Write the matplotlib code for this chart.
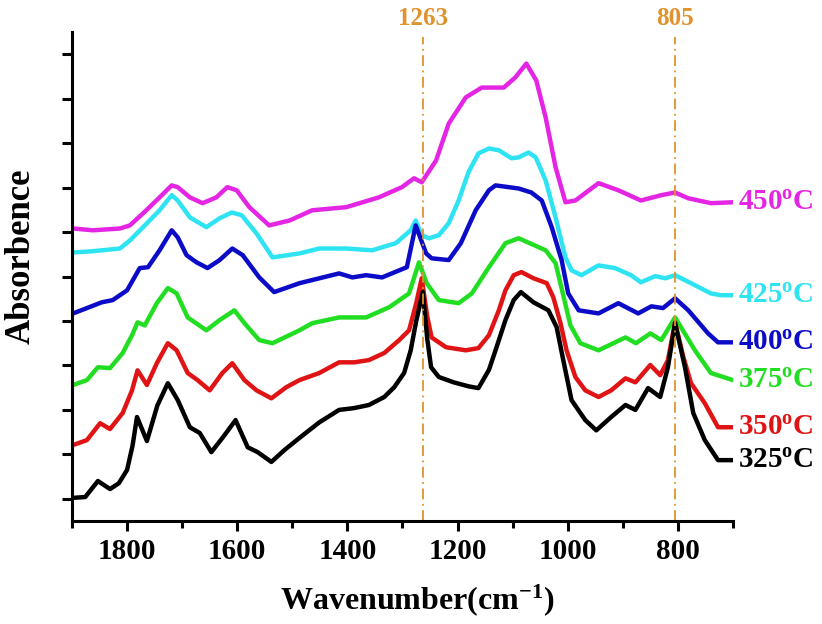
import numpy as np
import matplotlib.pyplot as plt
from matplotlib.ticker import MultipleLocator, NullFormatter

plt.rcParams['font.family'] = ['Liberation Serif', 'DejaVu Serif']
plt.rcParams['font.weight'] = 'bold'
plt.rcParams['mathtext.fontset'] = 'custom'
plt.rcParams['mathtext.rm'] = 'Liberation Serif:bold'
plt.rcParams['mathtext.it'] = 'Liberation Serif:bold'
plt.rcParams['mathtext.bf'] = 'Liberation Serif:bold'
plt.rcParams['mathtext.default'] = 'rm'

# 各温度下的红外光谱 (波数, 吸光度, 已做纵向平移)
wn_325 = [1900, 1876, 1853, 1831, 1815, 1800, 1790, 1782, 1764, 1745, 1726, 1708, 1686, 1668, 1647,
          1625, 1603, 1581, 1563, 1538, 1514, 1487, 1451, 1415, 1388, 1361, 1333, 1315, 1297, 1285,
          1275, 1263, 1255, 1248, 1234, 1207, 1180, 1162, 1143, 1131, 1113, 1098, 1085, 1062, 1035,
          1020, 1008, 993, 968, 948, 921, 895, 877, 854, 832, 818, 805, 787, 772, 751, 727, 700]
ab_325 = [1.02, 1.04, 1.40, 1.22, 1.35, 1.65, 2.20, 2.84, 2.30, 3.10, 3.60, 3.22, 2.61, 2.48, 2.05,
          2.40, 2.77, 2.16, 2.05, 1.83, 2.10, 2.37, 2.72, 3.00, 3.04, 3.11, 3.29, 3.51, 3.83, 4.34,
          5.00, 5.65, 4.60, 3.96, 3.74, 3.62, 3.53, 3.49, 3.90, 4.34, 5.02, 5.47, 5.65, 5.42, 5.24,
          4.86, 4.12, 3.22, 2.77, 2.54, 2.84, 3.11, 3.00, 3.49, 3.29, 3.96, 4.95, 3.96, 2.93, 2.32, 1.87, 1.87]

wn_350 = [1898, 1873, 1849, 1831, 1808, 1791, 1781, 1764, 1746, 1726, 1710, 1690, 1672, 1650, 1627,
          1609, 1587, 1565, 1538, 1511, 1487, 1451, 1415, 1388, 1361, 1333, 1306, 1288, 1275, 1265,
          1255, 1247, 1221, 1185, 1162, 1143, 1125, 1113, 1098, 1084, 1062, 1038, 1026, 1013, 1002,
          986, 968, 944, 921, 895, 877, 850, 832, 818, 805, 790, 776, 751, 727, 700]
ab_350 = [2.21, 2.32, 2.70, 2.57, 2.93, 3.44, 3.89, 3.56, 4.05, 4.50, 4.34, 3.83, 3.67, 3.44, 3.83,
          4.05, 3.67, 3.44, 3.26, 3.51, 3.67, 3.83, 4.07, 4.07, 4.12, 4.28, 4.57, 4.79, 5.40, 5.96,
          5.10, 4.63, 4.41, 4.34, 4.39, 4.68, 5.24, 5.69, 6.03, 6.10, 5.96, 5.85, 5.53, 4.95, 4.34,
          3.74, 3.44, 3.29, 3.44, 3.71, 3.62, 4.01, 3.78, 4.12, 4.97, 4.19, 3.60, 3.15, 2.61, 2.61]

wn_375 = [1898, 1873, 1853, 1831, 1808, 1791, 1781, 1768, 1746, 1726, 1710, 1690, 1656, 1632, 1605,
          1587, 1560, 1536, 1487, 1464, 1415, 1366, 1324, 1288, 1270, 1256, 1234, 1198, 1174, 1143,
          1113, 1089, 1040, 1022, 1008, 995, 977, 944, 895, 876, 850, 830, 805, 769, 740, 700]
ab_375 = [3.56, 3.67, 3.96, 3.94, 4.28, 4.68, 4.97, 4.90, 5.40, 5.74, 5.62, 5.08, 4.79, 5.02, 5.24,
          4.95, 4.57, 4.50, 4.79, 4.95, 5.08, 5.08, 5.31, 5.62, 6.32, 5.85, 5.47, 5.40, 5.62, 6.21,
          6.75, 6.86, 6.59, 6.30, 5.58, 4.90, 4.50, 4.34, 4.63, 4.50, 4.72, 4.57, 5.08, 4.34, 3.83, 3.67]

wn_400 = [1898, 1873, 1846, 1826, 1800, 1777, 1762, 1741, 1719, 1708, 1692, 1674, 1654, 1632, 1609,
          1590, 1560, 1533, 1487, 1415, 1391, 1366, 1337, 1292, 1276, 1257, 1247, 1216, 1194, 1167,
          1143, 1131, 1089, 1066, 1047, 1029, 1011, 999, 980, 944, 908, 872, 848, 827, 805, 781,
          745, 727, 700]
ab_400 = [5.17, 5.29, 5.42, 5.47, 5.69, 6.19, 6.21, 6.59, 7.04, 6.88, 6.48, 6.32, 6.19, 6.37, 6.63,
          6.48, 5.98, 5.65, 5.85, 6.07, 5.98, 6.03, 5.98, 6.21, 7.15, 6.52, 6.41, 6.37, 6.75, 7.49,
          7.94, 8.05, 7.98, 7.89, 7.71, 7.11, 6.37, 5.62, 5.24, 5.17, 5.40, 5.17, 5.33, 5.29, 5.51, 5.24,
          4.72, 4.52, 4.52]

wn_425 = [1898, 1862, 1813, 1795, 1771, 1741, 1719, 1708, 1686, 1656, 1632, 1610, 1592, 1565, 1536,
          1487, 1451, 1402, 1355, 1312, 1285, 1276, 1265, 1252, 1234, 1216, 1198, 1180, 1162, 1143,
          1125, 1102, 1089, 1071, 1058, 1040, 1022, 1004, 993, 975, 944, 914, 885, 867, 841, 823,
          805, 776, 740, 722, 700]
ab_425 = [6.54, 6.57, 6.63, 6.81, 7.11, 7.49, 7.83, 7.71, 7.33, 7.11, 7.31, 7.44, 7.38, 6.97, 6.43,
          6.52, 6.63, 6.63, 6.59, 6.75, 7.04, 7.26, 6.93, 6.86, 6.93, 7.20, 7.71, 8.35, 8.77, 8.88,
          8.84, 8.66, 8.68, 8.79, 8.68, 8.16, 7.33, 6.43, 6.14, 6.03, 6.25, 6.19, 6.03, 5.87, 6.01, 5.96,
          6.03, 5.85, 5.62, 5.58, 5.58]

wn_450 = [1898, 1862, 1813, 1795, 1771, 1741, 1719, 1708, 1686, 1663, 1638, 1618, 1601, 1578, 1542,
          1505, 1464, 1402, 1343, 1301, 1279, 1265, 1239, 1216, 1185, 1156, 1116, 1095, 1075, 1057,
          1040, 1022, 1004, 986, 944, 908, 867, 830, 805, 781, 740, 700]
ab_450 = [7.08, 7.04, 7.08, 7.15, 7.42, 7.78, 8.05, 8.01, 7.78, 7.65, 7.78, 8.01, 7.94, 7.56, 7.15,
          7.26, 7.49, 7.56, 7.78, 8.01, 8.21, 8.12, 8.61, 9.44, 10.03, 10.25, 10.25, 10.48, 10.79, 10.41,
          9.58, 8.46, 7.67, 7.71, 8.10, 7.94, 7.71, 7.83, 7.89, 7.76, 7.65, 7.67]

series = [
    (wn_450, ab_450, '450', '#E426E4'),
    (wn_425, ab_425, '425', '#2EE4F2'),
    (wn_400, ab_400, '400', '#0C0CC8'),
    (wn_375, ab_375, '375', '#22DE22'),
    (wn_350, ab_350, '350', '#E01414'),
    (wn_325, ab_325, '325', '#000000'),
]
peaks = [1263, 805]

fig = plt.figure(figsize=(8.22, 6.24), dpi=100)
ax = fig.add_axes([0.0876, 0.165, 0.804, 0.7837])

for wn, ab, temp, c in series:
    ax.plot(wn, ab, color=c, lw=3.2, solid_joinstyle='round', solid_capstyle='round')
    ax.text(690, ab[-1], temp + r'$^{\mathrm{o}}$C', color=c, fontsize=21, fontweight='bold',
            ha='left', va='center', clip_on=False)

for p in peaks:
    ax.plot([p, p], [0.5, 11.38], color='#E0922E', lw=1.3, linestyle=(0, (6, 2.5, 1, 2.5)))
    ax.text(p, 11.8, str(p), color='#E0922E', fontsize=18, fontweight='bold',
            ha='center', va='center', clip_on=False)

ax.set_xlim(1900, 700)
ax.set_ylim(0.5, 11.5)
ax.xaxis.set_major_locator(MultipleLocator(200))
ax.xaxis.set_minor_locator(MultipleLocator(100))
ax.xaxis.set_minor_formatter(NullFormatter())
ax.set_yticks(np.arange(1, 12))
ax.set_yticklabels([])

for s in ['top', 'right']:
    ax.spines[s].set_visible(False)
for s in ['left', 'bottom']:
    ax.spines[s].set_linewidth(2.2)
ax.tick_params(axis='both', which='major', direction='out', length=7, width=2.2,
               labelsize=21, pad=5)
ax.tick_params(axis='x', which='minor', direction='out', length=5, width=2.2)

ax.set_xlabel(r'Wavenumber(cm$^{\mathrm{-1}}$)', fontsize=23, fontweight='bold')
ax.xaxis.set_label_coords(0.523, -0.125)
ax.set_ylabel('Absorbence', fontsize=25, fontweight='bold')
ax.yaxis.set_label_coords(-0.052, 0.542)

plt.savefig('out.png', dpi=100)
